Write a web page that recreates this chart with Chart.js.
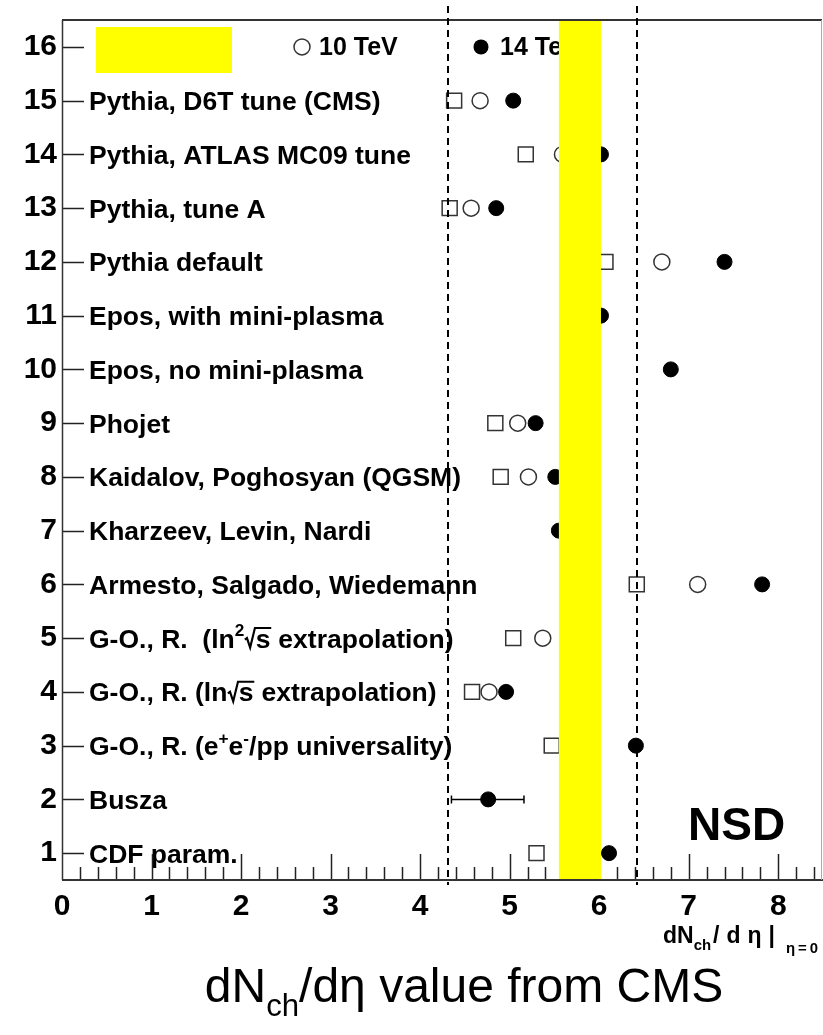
<!DOCTYPE html>
<html>
<head>
<meta charset="utf-8">
<script src="https://cdn.jsdelivr.net/npm/chart.js@4.4.0/dist/chart.umd.min.js"></script>
<style>
  body { margin: 0; background: #fff; }
  canvas { display: block; }
</style>
</head>
<body>
<canvas id="chart" width="823" height="1035"></canvas>
<script>
// Modelos, fila 1 (abajo) a fila 15
var rows = [1, 2, 3, 4, 5, 6, 7, 8, 9, 10, 11, 12, 13, 14, 15];
var models = [
    'CDF param.',
    'Busza',
    'G-O., R. (e^{+}e^{-}/pp universality)',
    'G-O., R. (ln#sqrt{s} extrapolation)',
    'G-O., R.  (ln^{2}#sqrt{s} extrapolation)',
    'Armesto, Salgado, Wiedemann',
    'Kharzeev, Levin, Nardi',
    'Kaidalov, Poghosyan (QGSM)',
    'Phojet',
    'Epos, no mini-plasma',
    'Epos, with mini-plasma',
    'Pythia default',
    'Pythia, tune A',
    'Pythia, ATLAS MC09 tune',
    'Pythia, D6T tune (CMS)'
];
var yTicks = [1, 2, 3, 4, 5, 6, 7, 8, 9, 10, 11, 12, 13, 14, 15, 16];
var xTicks = [0, 1, 2, 3, 4, 5, 6, 7, 8];
var energies = ['0.9 TeV', '10 TeV', '14 TeV'];
var legendRow = 16;

// dN/deta por energia (null = sin punto)
var val09 = [5.30, null, 5.47, 4.58, 5.04, 6.42, null, 4.90, 4.84, null, null, 6.07, 4.33, 5.18, 4.38];
var val10 = [null, null, null, 4.77, 5.37, 7.10, null, 5.21, 5.09, null, null, 6.70, 4.57, 5.59, 4.67];
var val14 = [6.11, 4.76, 6.41, 4.96, null, 7.82, 5.55, 5.51, 5.29, 6.80, 6.02, 7.40, 4.85, 6.02, 5.04];

// barra de error de Busza (fila 2)
var buszaRow = 2;
var buszaErr = [4.35, 5.16];

// lineas discontinuas y banda CMS
var dashedLines = [4.31, 6.42];
var cmsBand = [5.55, 6.02];

var chartFont = '"Liberation Sans", Arial, Helvetica, sans-serif';

function toPoints(vals) {
    var pts = [];
    vals.forEach(function(v, i) {
        if (v !== null) pts.push({ x: v, y: rows[i] });
    });
    return pts;
}

// mini TLatex: ^{..} _{..} #sqrt{..} #eta
function parseLatex(str) {
    str = str.replace(/#eta/g, '\u03b7');
    var parts = [], buf = '', i = 0;
    while (i < str.length) {
        var m = str.slice(i).match(/^(\^|_|#sqrt)\{([^}]*)\}/);
        if (m) {
            if (buf) { parts.push({ t: buf, k: 'n' }); buf = ''; }
            parts.push({ t: m[2], k: m[1] === '^' ? 'sup' : (m[1] === '_' ? 'sub' : 'sqrt') });
            i += m[0].length;
        } else {
            buf += str[i];
            i++;
        }
    }
    if (buf) parts.push({ t: buf, k: 'n' });
    return parts;
}

function drawLatex(ctx, str, x, y, size, weight, dry) {
    var parts = parseLatex(str);
    var x0 = x;
    ctx.textAlign = 'left';
    ctx.textBaseline = 'alphabetic';
    parts.forEach(function(p) {
        var fs = size, dy = 0;
        if (p.k === 'sup') { fs = size * 0.65; dy = -size * 0.42; }
        if (p.k === 'sub') { fs = size * 0.65; dy = size * 0.3; }
        ctx.font = weight + ' ' + fs + 'px ' + chartFont;
        var w = ctx.measureText(p.t).width;
        if (p.k === 'sqrt') {
            var top = y - size * 0.74;
            if (!dry) {
                ctx.beginPath();
                ctx.lineWidth = size * 0.08;
                ctx.moveTo(x + size * 0.02, y - size * 0.3);
                ctx.lineTo(x + size * 0.1, y - size * 0.36);
                ctx.lineTo(x + size * 0.22, y);
                ctx.lineTo(x + size * 0.4, top);
                ctx.lineTo(x + size * 0.46 + w, top);
                ctx.stroke();
                ctx.fillText(p.t, x + size * 0.43, y);
            }
            x += size * 0.45 + w;
            return;
        }
        if (!dry) ctx.fillText(p.t, x, y + dy);
        x += w;
    });
    return x - x0;
}

var rootPlugin = {
    id: 'rootStyle',
    beforeDatasetsDraw: function(chart) {
        var ctx = chart.ctx, a = chart.chartArea, ys = chart.scales.y;
        ctx.save();
        ctx.fillStyle = '#000';
        ctx.strokeStyle = '#000';
        // etiquetas de modelos
        rows.forEach(function(r, i) {
            drawLatex(ctx, models[i], a.left + 27, ys.getPixelForValue(r) + 9.5, 26.5, 'bold');
        });
        // leyenda en la fila 16
        var ly = ys.getPixelForValue(legendRow);
        var lx = [a.left + 60, a.left + 240, a.left + 419];
        ctx.font = 'bold 25px ' + chartFont;
        ctx.textBaseline = 'middle';
        ctx.textAlign = 'left';
        ctx.lineWidth = 1.5;
        ctx.strokeStyle = '#333';
        ctx.strokeRect(lx[0] - 7.5, ly - 7.5, 15, 15);
        ctx.beginPath();
        ctx.arc(lx[1], ly, 8, 0, Math.PI * 2);
        ctx.stroke();
        ctx.beginPath();
        ctx.arc(lx[2], ly, 7.5, 0, Math.PI * 2);
        ctx.fill();
        energies.forEach(function(e, i) {
            ctx.fillText(e, lx[i] + (i === 2 ? 19 : 17), ly + 1);
        });
        ctx.restore();
    },
    afterDatasetsDraw: function(chart) {
        var ctx = chart.ctx, a = chart.chartArea, xs = chart.scales.x, ys = chart.scales.y;
        ctx.save();
        ctx.strokeStyle = '#000';
        ctx.fillStyle = '#000';

        // error de Busza
        var by = ys.getPixelForValue(buszaRow);
        var bx1 = xs.getPixelForValue(buszaErr[0]), bx2 = xs.getPixelForValue(buszaErr[1]);
        ctx.lineWidth = 1.5;
        ctx.beginPath();
        ctx.moveTo(bx1, by); ctx.lineTo(bx2, by);
        ctx.moveTo(bx1, by - 4); ctx.lineTo(bx1, by + 4);
        ctx.moveTo(bx2, by - 4); ctx.lineTo(bx2, by + 4);
        ctx.stroke();

        // marcas del eje x (cada 0.2)
        ctx.strokeStyle = '#222';
        ctx.lineWidth = 1.5;
        ctx.beginPath();
        for (var i = 1; i <= 42; i++) {
            var px = Math.round(xs.getPixelForValue(i * 0.2)) + 0.5;
            var len = (i % 5 === 0) ? 26 : 13;
            ctx.moveTo(px, a.bottom);
            ctx.lineTo(px, a.bottom - len);
        }
        // marcas del eje y
        yTicks.forEach(function(v) {
            var py = Math.round(ys.getPixelForValue(v)) + 0.5;
            ctx.moveTo(a.left, py);
            ctx.lineTo(a.left + 22, py);
        });
        ctx.stroke();

        // banda amarilla CMS y recuadro
        ctx.fillStyle = '#ffff00';
        var c1 = xs.getPixelForValue(cmsBand[0]), c2 = xs.getPixelForValue(cmsBand[1]);
        ctx.fillRect(c1, a.top, c2 - c1, a.bottom - a.top);
        ctx.fillRect(96, 27, 136, 46);

        // marco
        ctx.strokeStyle = '#333';
        ctx.lineWidth = 2;
        ctx.beginPath();
        ctx.moveTo(a.left, a.top); ctx.lineTo(a.right - 1, a.top);
        ctx.moveTo(a.left, a.bottom); ctx.lineTo(a.right, a.bottom);
        ctx.stroke();
        ctx.lineWidth = 1.5;
        ctx.beginPath();
        ctx.moveTo(a.left + 0.5, a.top); ctx.lineTo(a.left + 0.5, a.bottom);
        ctx.stroke();
        ctx.strokeStyle = '#aaa';
        ctx.lineWidth = 1;
        ctx.beginPath();
        ctx.moveTo(a.right - 1.5, a.top); ctx.lineTo(a.right - 1.5, a.bottom);
        ctx.stroke();

        // lineas discontinuas
        ctx.strokeStyle = '#000';
        ctx.lineWidth = 2;
        ctx.setLineDash([7, 5]);
        dashedLines.forEach(function(v) {
            var px = Math.round(xs.getPixelForValue(v));
            ctx.beginPath();
            ctx.moveTo(px, a.top - 14);
            ctx.lineTo(px, a.bottom + 5);
            ctx.stroke();
        });
        ctx.setLineDash([]);

        // textos
        ctx.fillStyle = '#000';
        ctx.font = 'bold 46px ' + chartFont;
        ctx.textAlign = 'left';
        ctx.textBaseline = 'alphabetic';
        ctx.fillText('NSD', 688, 840);

        // titulo del eje x (estilo ROOT)
        drawLatex(ctx, 'dN_{ch}', 663, 943, 23, 'bold');
        ctx.letterSpacing = '7px';
        drawLatex(ctx, '/d#eta|', 713, 943, 23, 'bold');
        ctx.letterSpacing = '3px';
        drawLatex(ctx, '_{#eta=0}', 786, 946, 23, 'bold');
        ctx.letterSpacing = '0px';

        var title = 'dN_{ch}/d#eta value from CMS';
        var tw = drawLatex(ctx, title, 0, 0, 48, 'normal', true);
        drawLatex(ctx, title, 464 - tw / 2, 1002, 48, 'normal');
        ctx.restore();
    }
};

var ctx = document.getElementById('chart');
new Chart(ctx, {
    type: 'scatter',
    data: {
        datasets: [{
            label: energies[2],
            data: toPoints(val14),
            pointStyle: 'circle',
            pointRadius: 7.5,
            pointHoverRadius: 7.5,
            backgroundColor: '#000',
            borderColor: '#000',
            borderWidth: 1
        }, {
            label: energies[1],
            data: toPoints(val10),
            pointStyle: 'circle',
            pointRadius: 8,
            pointHoverRadius: 8,
            backgroundColor: 'rgba(0,0,0,0)',
            borderColor: '#333',
            borderWidth: 1.5
        }, {
            label: energies[0],
            data: toPoints(val09),
            pointStyle: 'rect',
            pointRadius: 10.6,
            pointHoverRadius: 10.6,
            backgroundColor: 'rgba(0,0,0,0)',
            borderColor: '#333',
            borderWidth: 1.5
        }]
    },
    options: {
        responsive: false,
        animation: false,
        devicePixelRatio: 1,
        events: [],
        layout: { autoPadding: false, padding: { top: 20, right: 0, left: 0, bottom: 0 } },
        plugins: {
            legend: { display: false },
            tooltip: { enabled: false }
        },
        scales: {
            x: {
                type: 'linear',
                min: 0,
                max: 8.5,
                grid: { display: false, drawTicks: false },
                border: { display: false },
                afterBuildTicks: function(scale) {
                    scale.ticks = xTicks.map(function(v) { return { value: v }; });
                },
                afterFit: function(scale) {
                    scale.height = 155;
                    scale.paddingLeft = 0;
                    scale.paddingRight = 0;
                },
                ticks: {
                    padding: 9,
                    color: '#000',
                    maxRotation: 0,
                    font: { family: chartFont, size: 30, weight: 'bold' }
                }
            },
            y: {
                type: 'linear',
                min: 0.5,
                max: 16.5,
                grid: { display: false, drawTicks: false },
                border: { display: false },
                afterBuildTicks: function(scale) {
                    scale.ticks = yTicks.map(function(v) { return { value: v }; });
                },
                afterFit: function(scale) {
                    scale.width = 62;
                    scale.paddingTop = 0;
                    scale.paddingBottom = 0;
                },
                ticks: {
                    padding: 5,
                    color: '#000',
                    font: { family: chartFont, size: 30, weight: 'bold' }
                }
            }
        }
    },
    plugins: [rootPlugin]
});
</script>
</body>
</html>
